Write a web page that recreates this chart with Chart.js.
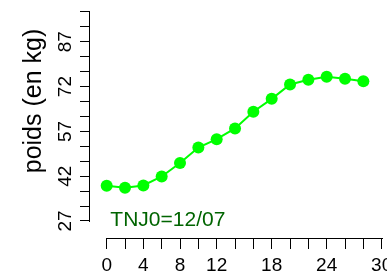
<!DOCTYPE html>
<html>
<head>
<meta charset="utf-8">
<script src="https://cdn.jsdelivr.net/npm/chart.js@4/dist/chart.umd.min.js"></script>
<style>
	html, body { margin: 0; padding: 0; background: #fff; }
	canvas { display: block; }
</style>
</head>
<body>
<canvas id="chart" width="387" height="275"></canvas>
<script>
var days = [0, 2, 4, 6, 8, 10, 12, 14, 16, 18, 20, 22, 24, 26, 28];
var weights = [38.8, 38.1, 38.9, 41.9, 46.4, 51.6, 54.4, 58.0, 63.6, 67.9, 72.7, 74.3, 75.3, 74.6, 73.8];

var xTicks = [0, 2, 4, 6, 8, 10, 12, 14, 16, 18, 20, 22, 24, 26, 28, 30];
var xLabels = [0, 4, 8, 12, 18, 24, 30];
var yTicks = [27, 32, 37, 42, 47, 52, 57, 62, 67, 72, 77, 82, 87, 92, 97];
var yLabels = [27, 42, 57, 72, 87];

var yTitle = 'poids (en kg)';
var note = 'TNJ0=12/07';

var FONT = '"Liberation Sans", Arial, Helvetica, sans-serif';

function setTicks(list) {
	return function(scale) {
		scale.ticks = list.map(function(v) { return {value: v}; });
	};
}

function noPadding(size, key) {
	return function(scale) {
		scale[key] = size;
		scale.paddingLeft = 0;
		scale.paddingRight = 0;
		scale.paddingTop = 0;
		scale.paddingBottom = 0;
	};
}

// axis lines only between first and last tick, plus the texts
var rAxes = {
	id: 'rAxes',
	afterDraw: function(chart) {
		var ctx = chart.ctx;
		var sx = chart.scales.x;
		var sy = chart.scales.y;
		var ax = chart.chartArea.left - 0.5;
		var ay = chart.chartArea.bottom + 0.5;

		ctx.save();
		ctx.strokeStyle = '#000';
		ctx.lineWidth = 1;
		ctx.lineCap = 'square';
		ctx.beginPath();
		ctx.moveTo(ax, Math.round(sy.getPixelForValue(yTicks[yTicks.length - 1])) + 0.5);
		ctx.lineTo(ax, Math.round(sy.getPixelForValue(yTicks[0])) + 0.5);
		ctx.moveTo(Math.round(sx.getPixelForValue(xTicks[0])) + 0.5, ay);
		ctx.lineTo(Math.round(sx.getPixelForValue(xTicks[xTicks.length - 1])) + 0.5, ay);
		ctx.stroke();

		ctx.fillStyle = '#006400';
		ctx.font = '21px ' + FONT;
		ctx.textAlign = 'left';
		ctx.textBaseline = 'alphabetic';
		ctx.fillText(note, sx.getPixelForValue(0.4), sy.getPixelForValue(25.4));

		ctx.fillStyle = '#000';
		ctx.font = '25px ' + FONT;
		ctx.translate(34, 101);
		ctx.rotate(-Math.PI / 2);
		ctx.textAlign = 'center';
		ctx.textBaseline = 'middle';
		ctx.fillText(yTitle, 0, 0);
		ctx.restore();
	}
};

new Chart(document.getElementById('chart'), {
	type: 'line',
	data: {
		datasets: [{
			data: days.map(function(d, i) { return {x: d, y: weights[i]}; }),
			borderColor: '#00ff00',
			borderWidth: 2,
			backgroundColor: '#00ff00',
			pointBackgroundColor: '#00ff00',
			pointBorderWidth: 0,
			pointRadius: 6,
			tension: 0,
			fill: false
		}]
	},
	options: {
		responsive: false,
		animation: false,
		devicePixelRatio: 1,
		layout: {padding: 0, autoPadding: false},
		plugins: {
			legend: {display: false},
			tooltip: {enabled: false}
		},
		scales: {
			x: {
				type: 'linear',
				position: 'bottom',
				min: -1.82,
				max: 30.58,
				afterBuildTicks: setTicks(xTicks),
				afterFit: noPadding(37, 'height'),
				border: {display: false},
				grid: {
					drawOnChartArea: false,
					drawTicks: true,
					tickLength: 11,
					tickColor: '#000',
					tickWidth: 1
				},
				ticks: {
					autoSkip: false,
					maxRotation: 0,
					padding: 5,
					color: '#000',
					font: {family: FONT, size: 19},
					callback: function(v) {
						return xLabels.indexOf(v) >= 0 ? String(v) : '';
					}
				}
			},
			y: {
				type: 'linear',
				position: 'left',
				min: 21.3,
				max: 101,
				afterBuildTicks: setTicks(yTicks),
				afterFit: noPadding(90, 'width'),
				border: {display: false},
				grid: {
					drawOnChartArea: false,
					drawTicks: true,
					tickLength: 10,
					tickColor: '#000',
					tickWidth: 1
				},
				ticks: {
					autoSkip: false,
					minRotation: 90,
					maxRotation: 90,
					crossAlign: 'center',
					padding: 4,
					color: '#000',
					font: {family: FONT, size: 19},
					callback: function(v) {
						return yLabels.indexOf(v) >= 0 ? String(v) : '';
					}
				}
			}
		}
	},
	plugins: [rAxes]
});
</script>
</body>
</html>
